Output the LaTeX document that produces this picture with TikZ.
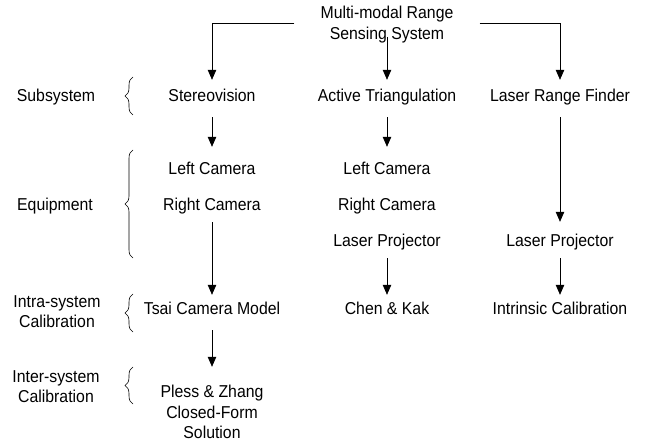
\documentclass[tikz,border=0pt]{standalone}
\usepackage{fontspec}
\setmainfont{Liberation Sans}[FakeStretch=0.92]
\usetikzlibrary{arrows.meta,decorations.pathreplacing}
\begin{document}
\begin{tikzpicture}[x=1pt,y=-1pt,
  txt/.style={font=\fontsize{17.2}{20.5}\selectfont, inner sep=0pt, text height=12.3pt, text depth=0pt},
  mtxt/.style={font=\fontsize{17.2}{20.5}\selectfont, inner sep=0pt, align=center},
  arr/.style={draw, line width=0.75pt, -{Triangle[length=10pt,width=8.5pt]}},
  brc/.style={draw, line width=0.6pt, decorate, decoration={brace, amplitude=8pt}}]
\useasboundingbox (0,0) rectangle (645,443);
% title
\node[mtxt, font=\fontsize{17.2}{21}\selectfont] (title) at (387,24.7) {Multi-modal Range\\Sensing System};
% row labels
\node[txt] (subl) at (56,95) {Subsystem};
\node[txt] (eql) at (55,204) {Equipment};
\node[mtxt] (intral) at (57,311.5) {Intra-system\\Calibration};
\node[mtxt] (interl) at (56,386.5) {Inter-system\\Calibration};
% subsystem row
\node[txt] (stereo) at (212,95) {Stereovision};
\node[txt] (active) at (387,95) {Active Triangulation};
\node[txt] (lrf) at (560,95) {Laser Range Finder};
% equipment
\node[txt] (lcamA) at (212,168) {Left Camera};
\node[txt] (rcamA) at (212,204) {Right Camera};
\node[txt] (lcamB) at (387,168) {Left Camera};
\node[txt] (rcamB) at (387,204) {Right Camera};
\node[txt] (lpB) at (387,240) {Laser Projector};
\node[txt] (lpC) at (560,240) {Laser Projector};
% intra
\node[txt] (tsai) at (212,308) {Tsai Camera Model};
\node[txt] (chen) at (387,308) {Chen \& Kak};
\node[txt] (intr) at (560,308) {Intrinsic Calibration};
% inter
\node[mtxt] (pless) at (212,411.9) {Pless \& Zhang\\Closed-Form\\Solution};
% connectors
\draw[arr, shorten >=8.85pt] ([xshift=-26pt,yshift=1.7pt]title.west) -| (stereo.north);
\draw[arr, shorten >=8.85pt] ([yshift=6.5pt]title.south) -- (active.north);
\draw[arr, shorten >=8.85pt] ([xshift=26pt,yshift=1.7pt]title.east) -| (lrf.north);
\draw[arr, shorten <=15.85pt, shorten >=14.85pt] (stereo.south) -- (lcamA.north);
\draw[arr, shorten <=15.85pt, shorten >=14.85pt] (active.south) -- (lcamB.north);
\draw[arr, shorten <=15.85pt, shorten >=11.85pt] (lrf.south) -- (lpC.north);
\draw[arr, shorten <=11.85pt, shorten >=6.85pt] (rcamA.south) -- (tsai.north);
\draw[arr, shorten <=11.85pt, shorten >=6.85pt] (lpB.south) -- (chen.north);
\draw[arr, shorten <=11.85pt, shorten >=6.85pt] (lpC.south) -- (intr.north);
\draw[arr, shorten <=15.85pt, shorten >=18.1pt] (tsai.south) -- (pless.north);
% braces
\draw[brc] (133,115) -- (133,77);
\draw[brc] (133,258) -- (133,150);
\draw[brc] (133,332) -- (133,294);
\draw[brc] (133,404) -- (133,367);
\end{tikzpicture}
\end{document}
